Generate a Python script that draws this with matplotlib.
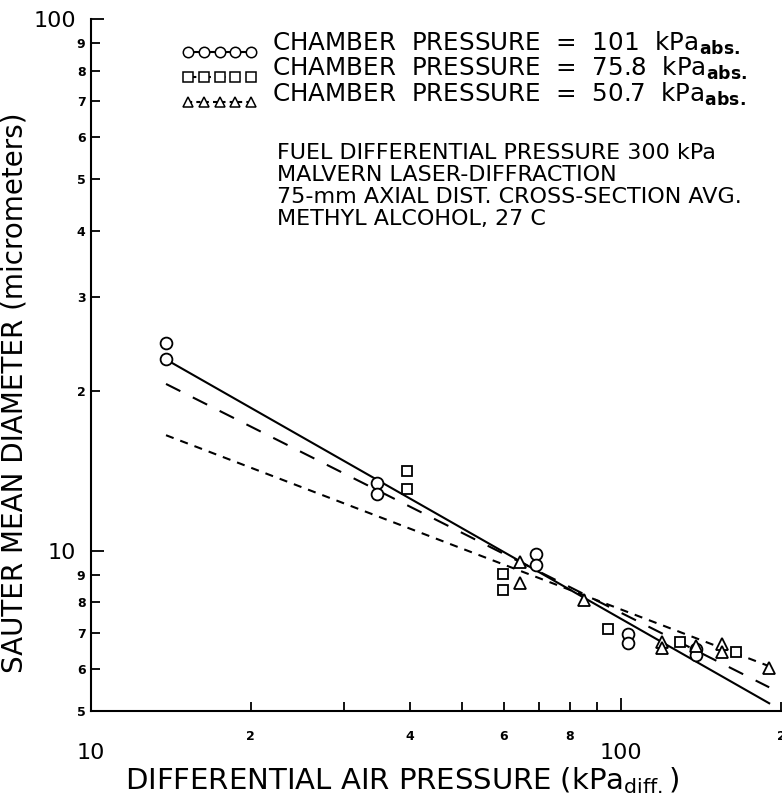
import numpy as np
import matplotlib.pyplot as plt
from matplotlib.ticker import FixedLocator, FixedFormatter
from matplotlib.legend_handler import HandlerLine2D

# data (air pressure kPa, SMD micrometers)
circ_x = [13.85, 13.85, 34.6, 34.6, 69.1, 69.1, 103, 103, 138.5, 138.5]
circ_y = [24.6, 22.9, 13.4, 12.8, 9.87, 9.41, 6.98, 6.71, 6.54, 6.37]

sq_x = [39.4, 39.4, 59.8, 59.8, 94.5, 129, 164.8]
sq_y = [14.15, 13.1, 9.05, 8.45, 7.13, 6.74, 6.45]

tri_x = [64.5, 64.5, 85.1, 119.5, 119.5, 138.5, 155, 155, 190]
tri_y = [9.53, 8.70, 8.09, 6.74, 6.57, 6.62, 6.68, 6.45, 6.02]

# fitted lines (end points)
fit_x = [13.85, 190]
fit_101 = [22.9, 5.17]
fit_758 = [20.6, 5.54]
fit_507 = [16.5, 6.07]

labels = [r"CHAMBER  PRESSURE  =  101  kPa$_{\mathbf{abs.}}$",
          r"CHAMBER  PRESSURE  =  75.8  kPa$_{\mathbf{abs.}}$",
          r"CHAMBER  PRESSURE  =  50.7  kPa$_{\mathbf{abs.}}$"]

note = ("FUEL DIFFERENTIAL PRESSURE 300 kPa\n"
        "MALVERN LASER-DIFFRACTION\n"
        "75-mm AXIAL DIST. CROSS-SECTION AVG.\n"
        "METHYL ALCOHOL, 27 C")


class UnderlineHandler(HandlerLine2D):
    # draw the line sample under the markers, like the original key
    def create_artists(self, legend, orig_handle, xdescent, ydescent,
                       width, height, fontsize, trans):
        arts = super().create_artists(legend, orig_handle, xdescent, ydescent,
                                      width, height, fontsize, trans)
        line = arts[0]
        line.set_ydata(np.asarray(line.get_ydata()) - 0.55 * height)
        return arts


def main():
    W, H = 782, 798
    fig = plt.figure(figsize=(W / 100, H / 100), dpi=100)
    ax = fig.add_axes([91 / W, (H - 711) / H, 690 / W, 692 / H])
    ax.set_xscale('log')
    ax.set_yscale('log')

    ax.plot(fit_x, fit_101, color='black', lw=1.5)
    ax.plot(fit_x, fit_758, color='black', lw=1.5, dashes=(7.7, 6.7))
    ax.plot(fit_x, fit_507, color='black', lw=1.5, dashes=(3.9, 3.4))

    ax.plot(circ_x, circ_y, 'o', ms=8.5, mfc='white', mec='black', mew=1.3)
    ax.plot(sq_x, sq_y, 's', ms=7.5, mfc='white', mec='black', mew=1.3)
    ax.plot(tri_x, tri_y, '^', ms=8, mfc='white', mec='black', mew=1.3)

    # key handles: markers with the line style underneath
    h1, = ax.plot([], [], 'o-', color='black', ms=7.5, mfc='white', mew=1.1, lw=1.5)
    h2, = ax.plot([], [], 's-', color='black', ms=6.5, mfc='white', mew=1.1, lw=1.5,
                  dashes=(4, 3))
    h3, = ax.plot([], [], '^-', color='black', ms=7, mfc='white', mew=1.1, lw=1.5,
                  dashes=(2, 2))

    ax.set_xlim(10, 200)
    ax.set_ylim(5, 100)

    for s in ['top', 'right']:
        ax.spines[s].set_visible(False)
    for s in ['left', 'bottom']:
        ax.spines[s].set_linewidth(1.5)

    ax.set_xticks([10, 100], ['10', '100'])
    ax.set_yticks([10, 100], ['10', '100'])
    x_minor = [20, 30, 40, 50, 60, 70, 80, 90, 200]
    x_minor_lab = ['2', '', '4', '', '6', '', '8', '', '2']
    y_minor = [5, 6, 7, 8, 9, 20, 30, 40, 50, 60, 70, 80, 90]
    y_minor_lab = ['5', '6', '7', '8', '9', '2', '3', '4', '5', '6', '7', '8', '9']
    ax.xaxis.set_minor_locator(FixedLocator(x_minor))
    ax.xaxis.set_minor_formatter(FixedFormatter(x_minor_lab))
    ax.yaxis.set_minor_locator(FixedLocator(y_minor))
    ax.yaxis.set_minor_formatter(FixedFormatter(y_minor_lab))

    ax.tick_params(which='both', direction='in', color='black', width=1.3)
    ax.tick_params(which='major', length=9.5, labelsize=16)
    ax.tick_params(which='minor', length=6.5, labelsize=9)
    ax.tick_params(axis='x', which='major', pad=23)
    ax.tick_params(axis='x', which='minor', pad=14)
    ax.tick_params(axis='y', which='major', pad=11)
    ax.tick_params(axis='y', which='minor', pad=4)
    for t in ax.get_xminorticklabels() + ax.get_yminorticklabels():
        t.set_fontweight('bold')

    ax.set_ylabel("SAUTER MEAN DIAMETER (micrometers)", fontsize=20)
    ax.yaxis.set_label_coords(-0.09, 0.46)
    ax.set_xlabel(r"DIFFERENTIAL AIR PRESSURE (kPa$_{\mathrm{diff.}}$)", fontsize=21)
    ax.xaxis.set_label_coords(0.451, -0.078)

    ax.legend([h1, h2, h3], labels, numpoints=5, frameon=False,
              loc='upper left', bbox_to_anchor=(181 / W, 1 - 30 / H),
              bbox_transform=fig.transFigure, fontsize=17.7,
              handlelength=3.15, handletextpad=0.55, labelspacing=-0.08,
              borderpad=0, borderaxespad=0,
              handler_map={h1: UnderlineHandler(), h2: UnderlineHandler(),
                           h3: UnderlineHandler()})

    fig.text(277 / W, 1 - 143 / H, note, fontsize=16, va='top', ha='left',
             linespacing=1.12)

    fig.savefig("out.png", dpi=100)


if __name__ == '__main__':
    main()
